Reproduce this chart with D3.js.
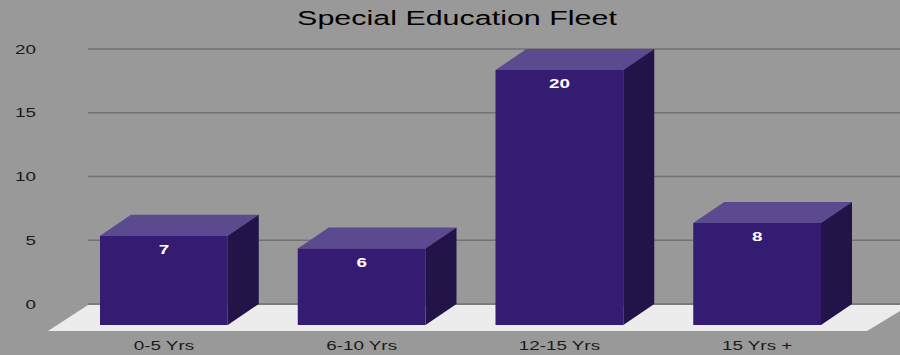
<!DOCTYPE html>
<html>
<head>
<meta charset="utf-8">
<script src="https://cdn.jsdelivr.net/npm/d3@7"></script>
<style>
  html, body { margin: 0; padding: 0; background: #999999; }
  svg { display: block; }
  text { font-family: Arial, "Liberation Sans", sans-serif; }
</style>
</head>
<body>
<svg id="chart" width="900" height="355"></svg>
<script>
// Fleet age groups and bus counts
const categories = ["0-5 Yrs", "6-10 Yrs", "12-15 Yrs", "15 Yrs +"];
const values = [7, 6, 20, 8];
const yTicks = [0, 5, 10, 15, 20];
const title = "Special Education Fleet";

const W = 900, H = 355;
const stretch = 1.45; // wide horizontal type
const svg = d3.select("#chart");

// 3D depth offset of the bars (back face relative to front face)
const depth = { dx: 31, dy: -21 };

// Front-plane scales
const x = d3.scaleBand()
  .domain(categories)
  .range([65, 856])
  .paddingInner(0.354)
  .paddingOuter(0.177);

const yFront = d3.scaleLinear().domain([0, 20]).range([325, 70]);
const yBack = v => yFront(v) + depth.dy;

const backLeft = 88;

// Places a horizontally stretched text at (px, py)
function wideText(sel, px, py) {
  return sel.attr("transform", (d, i) => {
    const tx = typeof px === "function" ? px(d, i) : px;
    const ty = typeof py === "function" ? py(d, i) : py;
    return `translate(${tx},${ty}) scale(${stretch},1)`;
  });
}

// Background
svg.append("rect").attr("width", W).attr("height", H).attr("fill", "#999999");

// Horizontal gridlines on the back wall
svg.append("g").selectAll("line").data(yTicks).join("line")
  .attr("x1", backLeft).attr("x2", W)
  .attr("y1", d => yBack(d)).attr("y2", d => yBack(d))
  .attr("stroke", "#727272").attr("stroke-width", 1.5);

// Value axis labels
wideText(svg.append("g").selectAll("text").data(yTicks).join("text"), 36, d => yBack(d))
  .attr("dy", "0.35em")
  .attr("text-anchor", "end")
  .attr("font-size", 13)
  .attr("fill", "#1a1a1a")
  .text(d => d);

// Floor slab
const floorBackY = yBack(0) + 1;
const floorFrontY = yFront(0) + 6;
svg.append("path")
  .attr("d", d3.line()([
    [backLeft, floorBackY], [W + 10, floorBackY],
    [867, floorFrontY], [48, floorFrontY]
  ]))
  .attr("fill", "#ececec");

// Bars as boxes: top, side, front
const bars = svg.append("g").selectAll("g").data(values).join("g");

bars.append("path")
  .attr("fill", "#5c4a90")
  .attr("d", (d, i) => {
    const x0 = x(categories[i]), x1 = x0 + x.bandwidth(), y = yFront(d);
    return d3.line()([[x0, y], [x1, y], [x1 + depth.dx, y + depth.dy], [x0 + depth.dx, y + depth.dy]]) + "Z";
  });

bars.append("path")
  .attr("fill", "#221348")
  .attr("d", (d, i) => {
    const x1 = x(categories[i]) + x.bandwidth(), yt = yFront(d), yb = yFront(0);
    return d3.line()([[x1, yt], [x1 + depth.dx, yt + depth.dy], [x1 + depth.dx, yb + depth.dy], [x1, yb]]) + "Z";
  });

bars.append("rect")
  .attr("fill", "#341c72")
  .attr("x", (d, i) => x(categories[i]))
  .attr("y", d => yFront(d))
  .attr("width", x.bandwidth())
  .attr("height", d => yFront(0) - yFront(d));

// Value labels on bar faces
wideText(bars.append("text"),
    (d, i) => x(categories[i]) + x.bandwidth() / 2,
    d => yFront(d) + 18)
  .attr("text-anchor", "middle")
  .attr("font-size", 13)
  .attr("font-weight", "bold")
  .attr("fill", "#ffffff")
  .text(d => d);

// Category labels
wideText(svg.append("g").selectAll("text").data(categories).join("text"),
    d => x(d) + x.bandwidth() / 2, 350)
  .attr("text-anchor", "middle")
  .attr("font-size", 13)
  .attr("fill", "#1a1a1a")
  .text(d => d);

// Title
wideText(svg.append("text"), 457, 25)
  .attr("text-anchor", "middle")
  .attr("font-size", 21)
  .attr("fill", "#000")
  .text(title);
</script>
</body>
</html>
